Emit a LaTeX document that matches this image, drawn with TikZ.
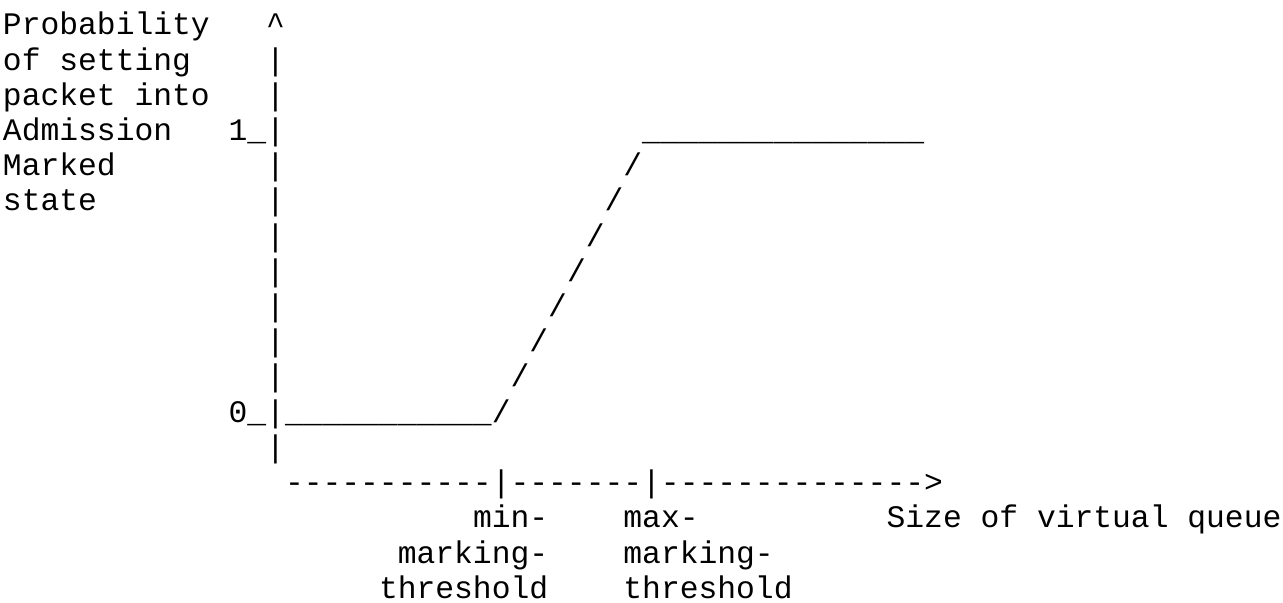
\documentclass[tikz,border=0pt]{standalone}
\usepackage{fontspec}
\setmonofont{Liberation Mono}
\newcommand\markcell[4]{
        \node [cell, name=#1] at (#2,#3) {#4};
}
\begin{document}
\begin{tikzpicture}[x=9.4pt, y=-17.6pt,
        cell/.style={anchor=base west, inner sep=0pt, outer sep=0pt,
          font=\fontsize{15.665}{17.6}\selectfont\ttfamily}
        ]
        \useasboundingbox (-1.5pt,17.5pt) rectangle (640pt,-284pt);
        % y axis label
        \markcell{ylabela}{0}{0}{Probability}
        \markcell{ylabelb}{0}{1}{of setting}
        \markcell{ylabelc}{0}{2}{packet into}
        \markcell{ylabeld}{0}{3}{Admission}
        \markcell{ylabele}{0}{4}{Marked}
        \markcell{ylabelf}{0}{5}{state}
        % y axis
        \markcell{ytip}{14}{0}{\textasciicircum}
        \foreach \r in {1,2,4,5,6,7,8,9,10,12}
          \node [cell, name=ybar\r] at (14,\r) {|};
        \markcell{yone}{12}{3}{1\_|}
        \markcell{yzero}{12}{11}{0\_|}
        % marking curve
        \markcell{lowflat}{15}{11}{\_\_\_\_\_\_\_\_\_\_\_}
        \foreach \r in {4,...,11}
          \node [cell, name=ramp\r] at (37-\r,\r) {/};
        \markcell{highflat}{34}{3}{\_\_\_\_\_\_\_\_\_\_\_\_\_\_\_}
        % x axis
        \markcell{xaxis}{15}{13}{-----------|-------|-------------->}
        \markcell{minthra}{25}{14}{min-}
        \markcell{minthrb}{21}{15}{marking-}
        \markcell{minthrc}{20}{16}{threshold}
        \markcell{maxthra}{33}{14}{max-}
        \markcell{maxthrb}{33}{15}{marking-}
        \markcell{maxthrc}{33}{16}{threshold}
        \markcell{xlabel}{47}{14}{Size of virtual queue}
\end{tikzpicture}
\end{document}
